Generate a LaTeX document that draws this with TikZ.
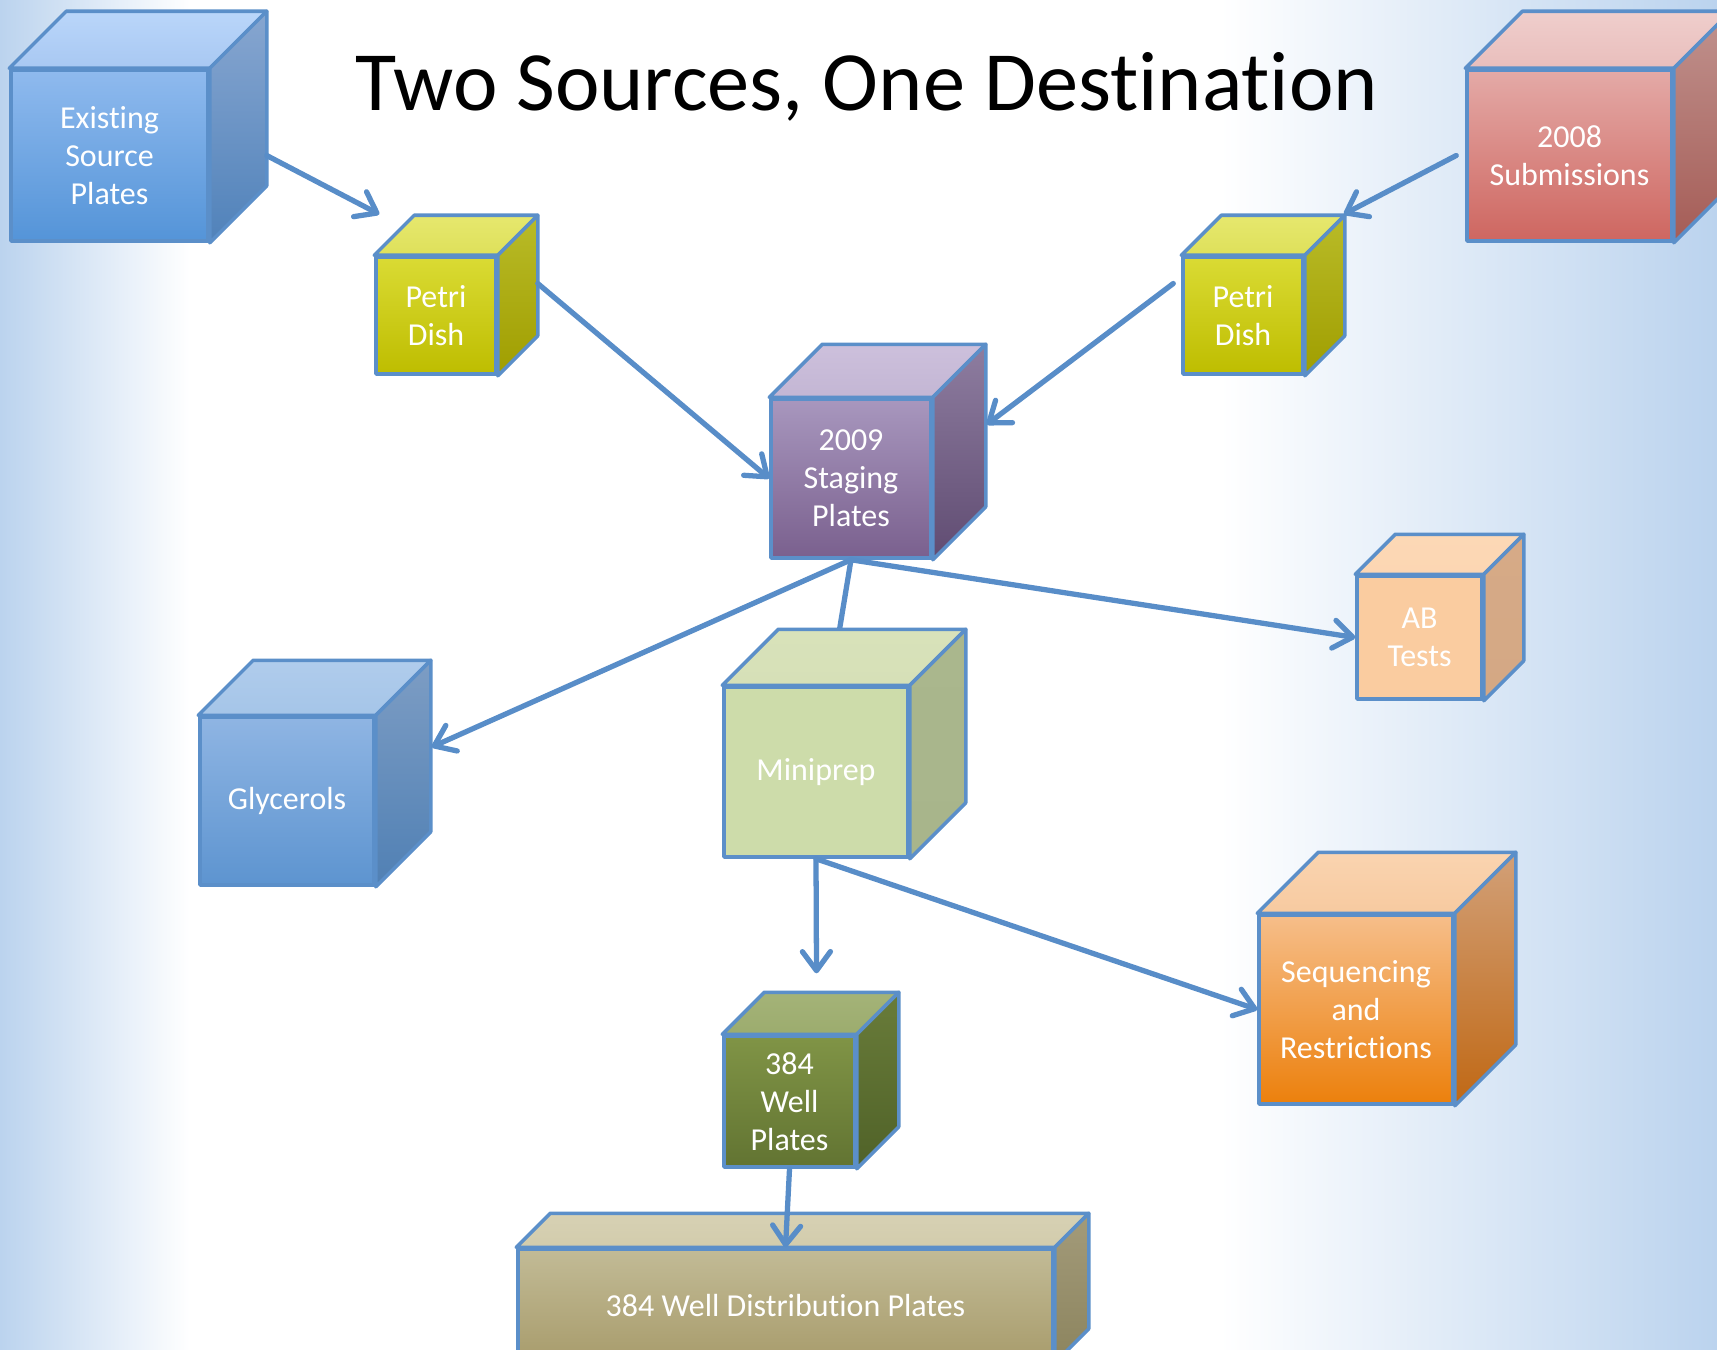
\documentclass[tikz,border=0pt]{standalone}
\usepackage{fontspec}
\setmainfont{Carlito}[Ligatures=NoCommon]
\usetikzlibrary{arrows.meta}

\definecolor{edgeblue}{RGB}{91,143,201}
\definecolor{arrowblue}{RGB}{88,141,200}
\definecolor{bgblue}{RGB}{187,211,238}

\tikzstyle{face} = [draw=edgeblue, line width=1pt, line join=round]
\tikzstyle{plate} = [face, rectangle, inner sep=0pt, align=center, text=white, font=\fontsize{9.1}{10.8}\selectfont]
\tikzstyle{arrow} = [draw=arrowblue, line width=1.5pt, line cap=round, -{Straight Barb[length=1.9mm, width=2.8mm, round]}]
\tikzstyle{link} = [draw=arrowblue, line width=1.5pt]

% top and right faces of a plate: node, depth, top face colours, side colours
\newcommand{\plateback}[6]{%
  \draw[face, top color=#3, bottom color=#4] (#1.north west) -- ++(#2,-#2) -- ([shift={(#2,-#2)}]#1.north east) -- (#1.north east) -- cycle;
  \draw[face, top color=#5, bottom color=#6] (#1.north east) -- ([shift={(#2,-#2)}]#1.north east) -- ([shift={(#2,-#2)}]#1.south east) -- (#1.south east) -- cycle;
}

\pgfdeclarelayer{bg}
\pgfdeclarelayer{under}
\pgfsetlayers{bg,under,main}

\begin{document}
\begin{tikzpicture}[x=0.1mm, y=-0.1mm]
            \useasboundingbox (0,0) rectangle (1717,1349);
            \clip (0,0) rectangle (1717,1349);
            \begin{pgfonlayer}{bg}
            \fill[white] (0,0) rectangle (1717,1349);
            \shade[left color=bgblue, right color=white] (0,0) rectangle (190,1349);
            \shade[left color=white, right color=bgblue] (1220,0) rectangle (1717,1349);
            \end{pgfonlayer}

            \node [font=\fontsize{24}{29}\selectfont, anchor=base] (title) at (867,110) {Two Sources, One Destination};

            \node [plate, minimum width=19.7mm, minimum height=17.1mm, top color={rgb,255:red,143;green,186;blue,238}, bottom color={rgb,255:red,84;green,148;blue,216}] at (109.5,155.5) (exist) {Existing\\Source\\Plates};
            \plateback{exist}{57}{{rgb,255:red,186;green,214;blue,250}}{{rgb,255:red,168;green,200;blue,242}}{{rgb,255:red,135;green,166;blue,208}}{{rgb,255:red,80;green,130;blue,186}}

            \node [plate, minimum width=12mm, minimum height=11.7mm, top color={rgb,255:red,218;green,219;blue,52}, bottom color={rgb,255:red,190;green,189;blue,0}] at (436,315.5) (petriL) {Petri\\Dish};
            \plateback{petriL}{40}{{rgb,255:red,230;green,232;blue,110}}{{rgb,255:red,222;green,224;blue,90}}{{rgb,255:red,185;green,187;blue,40}}{{rgb,255:red,160;green,158;blue,0}}

            \node [plate, minimum width=12mm, minimum height=11.7mm, top color={rgb,255:red,218;green,219;blue,52}, bottom color={rgb,255:red,190;green,189;blue,0}] at (1243,315.5) (petriR) {Petri\\Dish};
            \plateback{petriR}{40}{{rgb,255:red,230;green,232;blue,110}}{{rgb,255:red,222;green,224;blue,90}}{{rgb,255:red,185;green,187;blue,40}}{{rgb,255:red,160;green,158;blue,0}}

            \node [plate, minimum width=20.5mm, minimum height=17.1mm, top color={rgb,255:red,228;green,170;blue,167}, bottom color={rgb,255:red,206;green,102;blue,96}] at (1569.5,155.5) (subm) {2008\\Submissions};
            \plateback{subm}{57}{{rgb,255:red,239;green,206;blue,204}}{{rgb,255:red,233;green,190;blue,188}}{{rgb,255:red,192;green,146;blue,142}}{{rgb,255:red,165;green,92;blue,86}}

            \node [plate, minimum width=16mm, minimum height=15.9mm, top color={rgb,255:red,168;green,151;blue,190}, bottom color={rgb,255:red,122;green,96;blue,142}] at (851,478.5) (staging) {2009\\Staging\\Plates};
            \plateback{staging}{53}{{rgb,255:red,205;green,192;blue,220}}{{rgb,255:red,195;green,182;blue,212}}{{rgb,255:red,142;green,125;blue,160}}{{rgb,255:red,96;green,76;blue,114}}

            \node [plate, minimum width=12.5mm, minimum height=12.3mm, fill={rgb,255:red,250;green,204;blue,160}] at (1419.5,637.5) (ab) {AB\\Tests};
            \plateback{ab}{40}{{rgb,255:red,252;green,216;blue,182}}{{rgb,255:red,252;green,214;blue,178}}{{rgb,255:red,214;green,170;blue,135}}{{rgb,255:red,212;green,168;blue,132}}

            \node [plate, minimum width=17.4mm, minimum height=16.8mm, top color={rgb,255:red,143;green,181;blue,227}, bottom color={rgb,255:red,93;green,148;blue,208}] at (287,801) (glyc) {Glycerols};
            \plateback{glyc}{55}{{rgb,255:red,176;green,204;blue,236}}{{rgb,255:red,165;green,197;blue,232}}{{rgb,255:red,125;green,157;blue,196}}{{rgb,255:red,80;green,128;blue,180}}

            \node [plate, minimum width=18.4mm, minimum height=17mm, fill={rgb,255:red,205;green,220;blue,170}] at (816,772) (mini) {Miniprep};
            \plateback{mini}{56}{{rgb,255:red,216;green,226;blue,186}}{{rgb,255:red,214;green,224;blue,183}}{{rgb,255:red,170;green,183;blue,141}}{{rgb,255:red,168;green,181;blue,139}}

            \node [plate, minimum width=19.4mm, minimum height=18.9mm, top color={rgb,255:red,246;green,190;blue,138}, bottom color={rgb,255:red,236;green,128;blue,12}] at (1356,1009.5) (seq) {Sequencing\\and\\Restrictions};
            \plateback{seq}{61}{{rgb,255:red,250;green,212;blue,176}}{{rgb,255:red,247;green,202;blue,160}}{{rgb,255:red,210;green,160;blue,120}}{{rgb,255:red,192;green,104;blue,20}}

            \node [plate, minimum width=13.1mm, minimum height=13.1mm, top color={rgb,255:red,128;green,148;blue,70}, bottom color={rgb,255:red,98;green,116;blue,50}] at (789.5,1101.5) (well) {384\\Well\\Plates};
            \plateback{well}{42}{{rgb,255:red,164;green,179;blue,120}}{{rgb,255:red,156;green,172;blue,110}}{{rgb,255:red,105;green,124;blue,58}}{{rgb,255:red,80;green,98;blue,40}}

            \node [plate, minimum width=53.5mm, minimum height=11.2mm, top color={rgb,255:red,194;green,187;blue,150}, bottom color={rgb,255:red,168;green,156;blue,108}] at (785.5,1305) (dist) {384 Well Distribution Plates};
            \plateback{dist}{34}{{rgb,255:red,215;green,209;blue,180}}{{rgb,255:red,210;green,204;blue,172}}{{rgb,255:red,163;green,155;blue,122}}{{rgb,255:red,140;green,132;blue,94}}

            \draw [arrow] ([shift={(57,0)}]exist.east) -- ([shift={(5,-41)}]petriL.north west);
            \draw [arrow] ([shift={(40,-32)}]petriL.east) -- (staging.west);
            \draw [arrow] ([shift={(-9,0)}]subm.west) -- ([shift={(39,-41)}]petriR.north east);
            \draw [arrow] ([shift={(-8,-32)}]petriR.west) -- ([shift={(54,-54)}]staging.east);
            \draw [arrow] (staging.south) -- ([shift={(56,-54)}]glyc.east);
            \begin{pgfonlayer}{under}
            \draw [link] (staging.south) -- (mini.center);
            \end{pgfonlayer}
            \draw [arrow] (staging.south) -- (ab.west);
            \draw [arrow] (mini.south) -- ([shift={(27,-61)}]well.north);
            \draw [arrow] (mini.south) -- (seq.west);
            \draw [arrow] (well.south) -- (dist.north);
            \end{tikzpicture}
\end{document}
